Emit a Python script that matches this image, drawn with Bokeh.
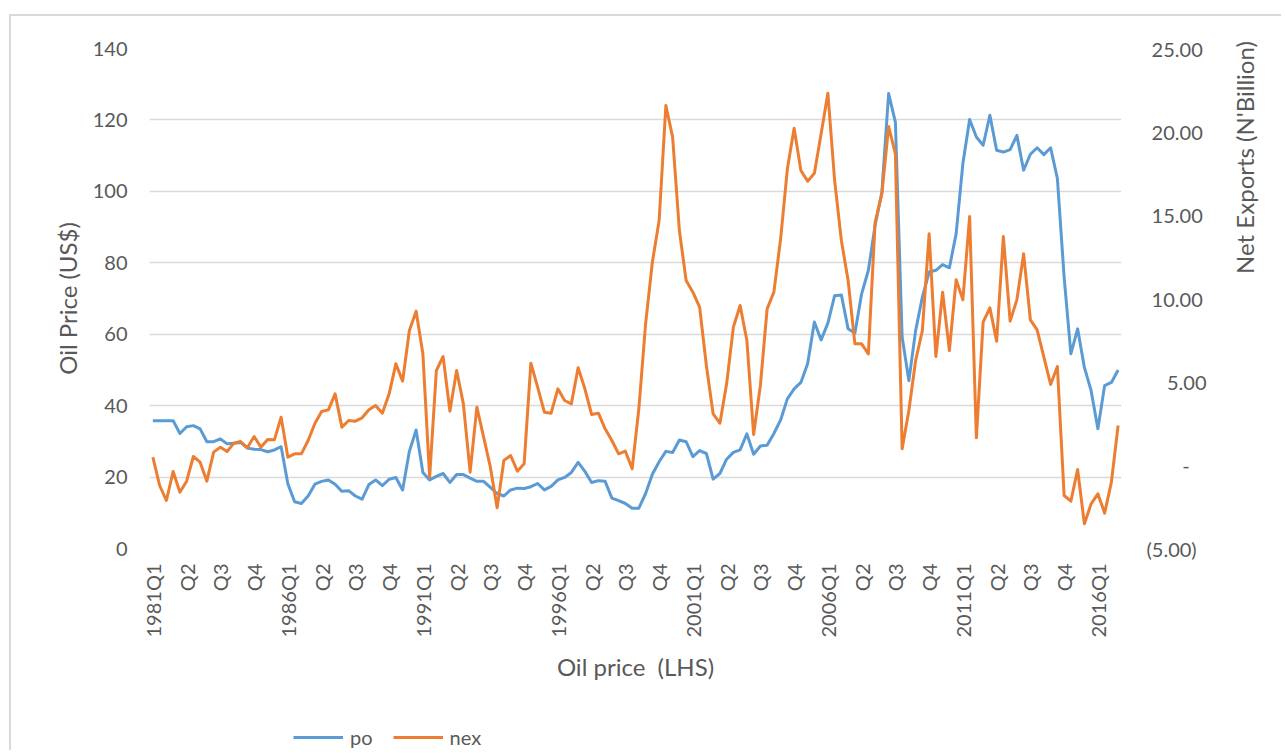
from math import pi
from bokeh.plotting import figure
from bokeh.layouts import column
from bokeh.models import (Range1d, LinearAxis, FixedTicker, Legend, LegendItem,
                          ColumnDataSource)
from bokeh.embed import file_html
from bokeh.resources import INLINE

# ---------------- data ----------------
years = list(range(1981, 2017))
quarters = [f"{y}Q{q}" for y in years for q in (1, 2, 3, 4)]  # 1981Q1 .. 2016Q4

po = [35.8, 35.8, 35.8, 35.8, 32.2, 34.1, 34.4, 33.5, 29.9, 29.9,
      30.7, 29.3, 29.5, 29.7, 28.1, 27.8, 27.7, 27.1, 27.6, 28.5,
      18.1, 13.1, 12.6, 14.7, 18.0, 18.8, 19.2, 18.0, 16.0, 16.2,
      14.7, 13.8, 17.9, 19.2, 17.6, 19.4, 19.9, 16.4, 27.2, 33.2,
      21.3, 19.2, 20.2, 21.0, 18.5, 20.7, 20.7, 19.7, 18.8, 18.8,
      17.1, 15.4, 14.7, 16.4, 16.9, 16.8, 17.3, 18.2, 16.4, 17.4,
      19.2, 19.9, 21.3, 24.1, 21.6, 18.5, 19.0, 18.8, 14.1, 13.4,
      12.6, 11.3, 11.3, 15.4, 20.8, 24.3, 27.2, 26.9, 30.4, 29.9,
      25.7, 27.4, 26.6, 19.4, 21.0, 25.0, 26.9, 27.6, 32.1, 26.4,
      28.7, 28.9, 32.2, 36.0, 41.9, 44.7, 46.5, 51.7, 63.4, 58.4,
      63.1, 70.8, 71.0, 61.5, 60.3, 71.3, 77.9, 90.5, 99.8, 127.4,
      119.4, 59.2, 47.0, 61.0, 70.4, 77.4, 77.9, 79.5, 78.6, 88.1,
      107.8, 120.1, 115.2, 112.9, 121.3, 111.5, 111.0, 111.7, 115.7, 105.9,
      110.4, 112.2, 110.3, 112.2, 103.6, 76.0, 54.5, 61.5, 50.7, 44.2,
      33.5, 45.6, 46.5, 50.0]

nex = [0.48, -1.22, -2.12, -0.38, -1.62, -0.96, 0.52, 0.18, -0.96, 0.78,
       1.08, 0.82, 1.32, 1.42, 1.04, 1.72, 1.08, 1.54, 1.52, 2.88,
       0.48, 0.68, 0.68, 1.48, 2.50, 3.22, 3.32, 4.28, 2.28, 2.68,
       2.64, 2.84, 3.32, 3.58, 3.12, 4.28, 6.08, 5.04, 8.08, 9.24,
       6.68, -0.72, 5.68, 6.52, 3.24, 5.68, 3.68, -0.42, 3.48, 1.68,
       -0.12, -2.56, 0.28, 0.58, -0.36, 0.08, 6.12, 4.68, 3.18, 3.12,
       4.58, 3.88, 3.68, 5.84, 4.58, 3.04, 3.12, 2.18, 1.48, 0.68,
       0.84, -0.22, 3.40, 8.50, 12.18, 14.68, 21.58, 19.68, 14.08, 11.08,
       10.38, 9.48, 5.98, 3.08, 2.52, 4.88, 8.28, 9.58, 7.48, 1.84,
       4.78, 9.38, 10.38, 13.58, 17.78, 20.22, 17.68, 17.04, 17.52, 19.88,
       22.32, 17.08, 13.48, 11.08, 7.28, 7.28, 6.68, 14.58, 16.28, 20.32,
       18.68, 0.98, 3.28, 6.28, 8.08, 13.88, 6.52, 10.38, 6.88, 11.12,
       9.92, 14.92, 1.64, 8.58, 9.44, 7.44, 13.72, 8.64, 9.92, 12.68,
       8.72, 8.12, 6.48, 4.84, 5.92, -1.82, -2.16, -0.26, -3.52, -2.32,
       -1.72, -2.88, -1.02, 2.38]

x_tick_labels = ["1981Q1", "Q2", "Q3", "Q4", "1986Q1", "Q2", "Q3", "Q4",
                 "1991Q1", "Q2", "Q3", "Q4", "1996Q1", "Q2", "Q3", "Q4",
                 "2001Q1", "Q2", "Q3", "Q4", "2006Q1", "Q2", "Q3", "Q4",
                 "2011Q1", "Q2", "Q3", "Q4", "2016Q1"]
left_ticks = [0, 20, 40, 60, 80, 100, 120, 140]
right_ticks = [-5, 0, 5, 10, 15, 20, 25]
right_tick_labels = ["(5.00)", "-", "5.00", "10.00", "15.00", "20.00", "25.00"]
series_names = ["po", "nex"]

# ---------------- styling ----------------
FONT = "Lato"
TXT = "#595959"
GRID = "#D9D9D9"
BLUE = "#5B9BD5"
ORANGE = "#ED7D31"
NB = "\u00a0"
TITLE_SIZE = "24px"
# leading non-breaking spaces imitate Excel's accounting-format alignment
right_pad = {"(5.00)": 0, "-": 7, "5.00": 4}

idx = list(range(len(quarters)))
src = ColumnDataSource(dict(x=idx, q=quarters, po=po, nex=nex))

# content origin on the page is (11, 16): 9/14 px margin + 2 px chart border
p = figure(width=1270, height=684, output_backend="svg", toolbar_location=None,
           x_range=Range1d(-0.5, len(quarters) - 0.5), y_range=Range1d(0, 140),
           min_border_left=138, min_border_right=160, min_border_top=32,
           min_border_bottom=152)
p.extra_y_ranges = {"nex": Range1d(-5, 25)}
p.outline_line_color = None
p.background_fill_color = "white"
p.border_fill_color = "white"

p.xgrid.visible = False
p.ygrid.ticker = FixedTicker(ticks=left_ticks)
p.ygrid.grid_line_color = GRID
p.ygrid.grid_line_width = 1.5

r_po = p.line("x", "po", source=src, line_color=BLUE, line_width=3,
              line_join="round")
r_nex = p.line("x", "nex", source=src, line_color=ORANGE, line_width=3,
               line_join="round", y_range_name="nex")


def style_axis(ax, standoff):
    ax.axis_line_color = None
    ax.major_tick_line_color = None
    ax.minor_tick_line_color = None
    ax.major_tick_in = 0
    ax.major_tick_out = 0
    ax.minor_tick_in = 0
    ax.minor_tick_out = 0
    ax.major_label_standoff = standoff
    ax.major_label_text_font = FONT
    ax.major_label_text_font_size = "20px"
    ax.major_label_text_color = TXT
    ax.axis_label_text_font = FONT
    ax.axis_label_text_font_size = TITLE_SIZE
    ax.axis_label_text_font_style = "normal"
    ax.axis_label_text_color = TXT


# x axis
xa = p.xaxis[0]
tick_pos = idx[::5]
xa.ticker = FixedTicker(ticks=tick_pos)
xa.major_label_overrides = {t: lab for t, lab in zip(tick_pos, x_tick_labels)}
xa.major_label_orientation = pi / 2
style_axis(xa, 15)
xa.axis_label = "Oil price" + NB + " (LHS)"
xa.axis_label_standoff = 11

# left axis
ya = p.yaxis[0]
ya.ticker = FixedTicker(ticks=left_ticks)
style_axis(ya, 22)
ya.axis_label = "Oil Price (US$)"
ya.axis_label_standoff = 8

# right axis
ra = LinearAxis(y_range_name="nex", ticker=FixedTicker(ticks=right_ticks))
ra.major_label_overrides = {t: NB * right_pad.get(lab, 1) + lab
                            for t, lab in zip(right_ticks, right_tick_labels)}
style_axis(ra, 25)
ra.axis_label = NB * 4 + "Net Exports (N'Billion)"
ra.axis_label_standoff = 35
try:
    ra.axis_label_orientation = pi / 2
except Exception:
    pass
try:
    ra.axis_label_align = "left"
except Exception:
    pass
p.add_layout(ra, "right")

# ---------------- legend strip below the chart ----------------
lf = figure(width=1270, height=50, output_backend="svg", toolbar_location=None,
            x_range=Range1d(-0.5, len(quarters) - 0.5),
            y_range=Range1d(-1000, -999),
            min_border_left=0, min_border_right=0,
            min_border_top=0, min_border_bottom=0)
lf.axis.visible = False
lf.grid.visible = False
lf.outline_line_color = None
lf.background_fill_color = "white"
lf.border_fill_color = "white"
# same series, drawn outside this strip's view: only their legend keys show
k_po = lf.line("x", "po", source=src, line_color=BLUE, line_width=3)
k_nex = lf.line("x", "nex", source=src, line_color=ORANGE, line_width=3)
legend = Legend(items=[LegendItem(label=series_names[0], renderers=[k_po]),
                       LegendItem(label=series_names[1], renderers=[k_nex])],
                orientation="horizontal", location=(144, 1),
                glyph_width=50, glyph_height=20, label_height=20,
                label_standoff=7, spacing=20,
                padding=0, margin=0, border_line_color=None,
                background_fill_alpha=0, label_text_font=FONT,
                label_text_font_size="20px", label_text_color=TXT)
lf.add_layout(legend, "center")

layout = column(p, lf, spacing=0,
                styles={"margin-left": "9px", "margin-top": "14px",
                        "border-left": "2px solid #D9D9D9",
                        "border-top": "2px solid #D9D9D9"})
open("out.html", "w").write(file_html(layout, INLINE))
